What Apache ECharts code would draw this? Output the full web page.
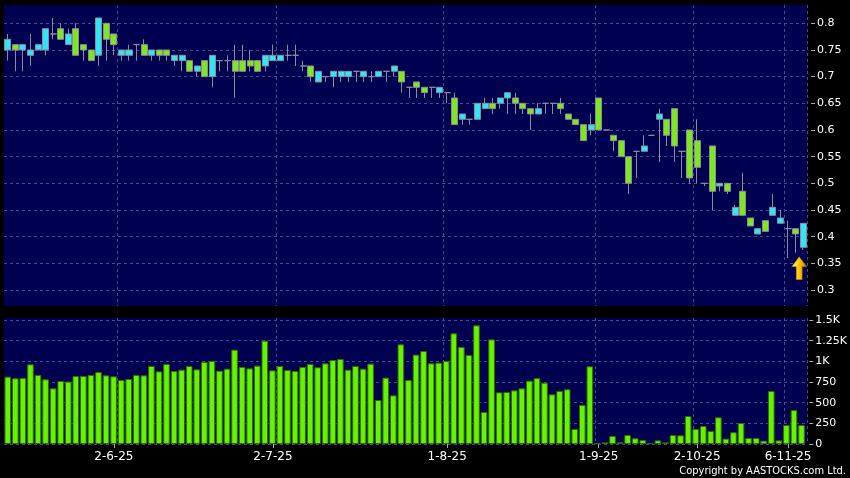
<!DOCTYPE html>
<html><head><meta charset="utf-8">
<script src="https://cdn.jsdelivr.net/npm/echarts@6/dist/echarts.min.js"></script>
<style>html,body{margin:0;padding:0;background:#000;}#c{width:850px;height:478px;}</style>
</head><body><div id="c"></div>
<script>
// [open, close, low, high]
const ohlc = [
[0.75,0.77,0.73,0.78],[0.76,0.75,0.71,0.76],[0.75,0.76,0.71,0.76],[0.74,0.75,0.72,0.78],[0.75,0.76,0.75,0.76],
[0.75,0.79,0.74,0.79],[0.78,0.78,0.77,0.81],[0.79,0.77,0.77,0.80],[0.76,0.78,0.76,0.79],[0.79,0.74,0.74,0.80],
[0.76,0.75,0.73,0.76],[0.75,0.73,0.73,0.75],[0.74,0.81,0.72,0.81],[0.80,0.77,0.73,0.80],[0.78,0.76,0.74,0.78],
[0.74,0.75,0.73,0.75],[0.74,0.75,0.73,0.76],[0.76,0.76,0.73,0.76],[0.76,0.74,0.74,0.77],[0.74,0.75,0.73,0.75],
[0.75,0.74,0.73,0.75],[0.75,0.74,0.73,0.75],[0.73,0.74,0.72,0.74],[0.73,0.74,0.71,0.74],[0.73,0.71,0.71,0.73],
[0.71,0.72,0.70,0.72],[0.73,0.70,0.70,0.73],[0.70,0.74,0.68,0.74],[0.73,0.73,0.71,0.73],[0.73,0.73,0.71,0.74],
[0.73,0.71,0.66,0.76],[0.73,0.71,0.71,0.76],[0.73,0.72,0.71,0.75],[0.73,0.71,0.71,0.73],[0.72,0.74,0.71,0.74],
[0.73,0.74,0.73,0.76],[0.73,0.74,0.73,0.74],[0.74,0.74,0.73,0.76],[0.74,0.74,0.72,0.76],[0.72,0.72,0.71,0.73],
[0.72,0.70,0.69,0.72],[0.69,0.71,0.69,0.71],[0.70,0.70,0.69,0.70],[0.70,0.71,0.68,0.71],[0.70,0.71,0.69,0.71],
[0.70,0.71,0.69,0.71],[0.71,0.71,0.69,0.71],[0.70,0.71,0.69,0.71],[0.70,0.70,0.69,0.71],[0.70,0.71,0.70,0.71],
[0.71,0.71,0.69,0.71],[0.71,0.72,0.70,0.72],[0.71,0.69,0.67,0.71],[0.68,0.68,0.66,0.68],[0.69,0.68,0.66,0.69],
[0.68,0.67,0.66,0.68],[0.68,0.68,0.66,0.68],[0.67,0.68,0.66,0.68],[0.67,0.67,0.65,0.67],[0.66,0.61,0.61,0.67],
[0.62,0.63,0.61,0.63],[0.62,0.62,0.61,0.62],[0.62,0.65,0.62,0.65],[0.64,0.65,0.64,0.66],[0.65,0.64,0.63,0.66],
[0.65,0.66,0.64,0.66],[0.66,0.67,0.63,0.67],[0.66,0.65,0.63,0.67],[0.65,0.64,0.63,0.65],[0.64,0.63,0.60,0.64],
[0.63,0.64,0.63,0.65],[0.65,0.65,0.63,0.65],[0.65,0.65,0.63,0.65],[0.65,0.64,0.63,0.66],[0.63,0.62,0.62,0.63],
[0.62,0.61,0.61,0.62],[0.61,0.58,0.58,0.61],[0.60,0.61,0.59,0.63],[0.66,0.60,0.60,0.66],[0.60,0.60,0.60,0.60],
[0.59,0.58,0.56,0.59],[0.58,0.55,0.55,0.58],[0.55,0.50,0.48,0.55],[0.56,0.56,0.51,0.56],[0.56,0.57,0.56,0.59],
[0.59,0.59,0.59,0.59],[0.62,0.63,0.54,0.64],[0.62,0.59,0.57,0.62],[0.64,0.57,0.54,0.64],[0.56,0.56,0.51,0.56],
[0.60,0.51,0.50,0.60],[0.58,0.53,0.50,0.62],[0.50,0.50,0.495,0.50],[0.57,0.485,0.45,0.57],[0.495,0.50,0.485,0.50],
[0.50,0.485,0.48,0.50],[0.44,0.455,0.44,0.46],[0.485,0.44,0.44,0.52],[0.435,0.42,0.42,0.435],[0.405,0.415,0.405,0.415],
[0.43,0.41,0.41,0.43],[0.44,0.455,0.44,0.48],[0.425,0.435,0.425,0.45],[0.415,0.415,0.36,0.43],[0.415,0.405,0.37,0.415],
[0.38,0.425,0.375,0.425]
];
const volumes = [
815,795,800,964,835,783,674,762,755,823,
823,835,871,831,819,774,787,835,831,944,
879,968,883,899,944,903,992,1004,887,911,
1141,932,915,948,1250,891,944,895,883,932,
968,928,976,1016,1029,899,944,911,972,532,
803,589,1206,774,1081,1125,976,984,1004,1339,
1174,1077,1436,387,1266,625,629,649,674,766,
798,742,601,642,662,182,472,940,8,20,
97,20,109,69,48,10,44,20,109,105,
339,182,218,157,323,65,142,254,73,73,
40,641,44,230,411,230
];
const dateLabels = ['2-6-25','2-7-25','1-8-25','1-9-25','2-10-25','6-11-25'];
const dateLabelIndex = [14,35,58,78,91,103];
const dateGridIndex = [15,36,58,78,91,103];
const priceTicks = {min:0.3, max:0.8, step:0.05};
const volTickLabels = {0:'0',250:'250',500:'500',750:'750',1000:'1K',1250:'1.25K',1500:'1.5K'};
const volTicks = {min:0, max:1500, step:250};
const arrowPoint = {index:105, price:0.341};

const categories = ohlc.map((d,i)=>String(i));
const NAVY='#000050', GRIDC='#4a4a8c', UP='#2ee6f5', DOWN='#7de81e', WICK='#8c8c98', VOL='#66f200';
const FONT='DejaVu Sans';
const dashed = {show:true, lineStyle:{color:GRIDC, type:[3,3], width:1}};

const chart = echarts.init(document.getElementById('c'), null, {renderer:'canvas'});
chart.setOption({
  animation:false,
  backgroundColor:'#000000',
  grid:[
    {left:4, top:5, width:803, height:301, show:true, backgroundColor:NAVY, borderWidth:0},
    {left:4, top:23.3, width:803, height:266.7, show:false},
    {left:4, top:318, width:803, height:126, show:true, backgroundColor:NAVY, borderWidth:0},
    {left:4, top:320, width:803, height:124, show:false}
  ],
  xAxis:[
    {gridIndex:0, type:'category', data:categories, boundaryGap:true,
     axisLine:{show:false}, axisTick:{show:false}, axisLabel:{show:false},
     splitLine:Object.assign({interval:(i)=>dateGridIndex.includes(i)}, dashed)},
    {gridIndex:1, type:'category', data:categories, boundaryGap:true, show:false},
    {gridIndex:2, type:'category', data:categories, boundaryGap:true, position:'bottom', offset:2,
     axisLine:{show:false},
     axisTick:{show:true, alignWithLabel:true, length:4, interval:(i)=>dateLabelIndex.includes(i), lineStyle:{color:'#aaaaaa'}},
     axisLabel:{show:true, interval:(i)=>dateLabelIndex.includes(i), color:'#ffffff', fontFamily:FONT, fontSize:12, margin:5,
       formatter:(v,i)=>{const k=dateLabelIndex.indexOf(i); return k>=0?dateLabels[k]:'';}},
     splitLine:Object.assign({interval:(i)=>dateGridIndex.includes(i)}, dashed)},
    {gridIndex:3, type:'category', data:categories, boundaryGap:true, show:false}
  ],
  yAxis:[
    {gridIndex:0, type:'value', min:0, max:1, show:false},
    {gridIndex:1, type:'value', position:'right', offset:4, min:priceTicks.min, max:priceTicks.max, interval:priceTicks.step,
     axisLine:{show:false}, axisTick:{show:true, length:4, lineStyle:{color:'#aaaaaa'}},
     axisLabel:{color:'#ffffff', fontFamily:FONT, fontSize:11, margin:6, formatter:(v)=>String(+v.toFixed(2))},
     splitLine:dashed},
    {gridIndex:2, type:'value', min:0, max:1, show:false},
    {gridIndex:3, type:'value', position:'right', offset:4, min:volTicks.min, max:volTicks.max, interval:volTicks.step,
     axisLine:{show:false}, axisTick:{show:true, length:4, lineStyle:{color:'#aaaaaa'}},
     axisLabel:{color:'#ffffff', fontFamily:FONT, fontSize:11, margin:6, formatter:(v)=>volTickLabels[Math.round(v)] ?? ''},
     splitLine:dashed}
  ],
  series:[
    {type:'candlestick', xAxisIndex:1, yAxisIndex:1, data:ohlc, barWidth:'86%', clip:false,
     itemStyle:{color:UP, color0:DOWN, borderColor:WICK, borderColor0:WICK, borderColorDoji:WICK, borderWidth:1},
     markPoint:{
       symbol:'path://M7.5,0 L15,10 L10.5,10 L10.5,23 L4.5,23 L4.5,10 L0,10 Z',
       symbolSize:[15,23], symbolOffset:[-4,0], label:{show:false},
       itemStyle:{color:new echarts.graphic.LinearGradient(0,0,1,0,[
         {offset:0,color:'#fff3a0'},{offset:0.45,color:'#ffd000'},{offset:1,color:'#c88000'}]),
         borderColor:'#a06000', borderWidth:0.5},
       data:[{coord:[String(arrowPoint.index), arrowPoint.price]}]
     }},
    {type:'bar', xAxisIndex:3, yAxisIndex:3, data:volumes, barWidth:'88%',
     itemStyle:{color:VOL, borderColor:'#2e7000', borderWidth:1}}
  ],
  graphic:[
    {type:'text', right:4, bottom:1, style:{text:'Copyright by AASTOCKS.com Ltd.', fill:'#ffffff',
      font:'11px "DejaVu Sans Condensed", "DejaVu Sans"'}}
  ]
});
</script></body></html>
